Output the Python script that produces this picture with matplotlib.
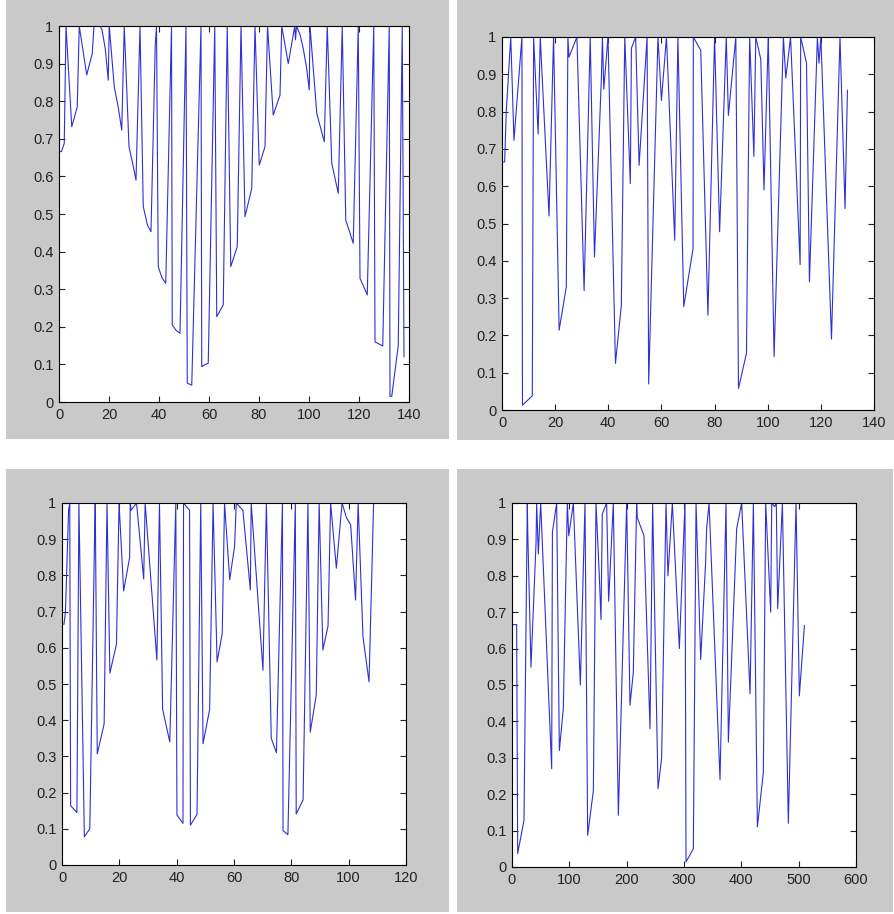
import matplotlib
matplotlib.use("Agg")
import matplotlib.pyplot as plt
from matplotlib.patches import Rectangle

plt.rcParams['font.family'] = ['Liberation Sans Narrow', 'Liberation Sans', 'DejaVu Sans']

# ---- data ----
p1_x = [0, 1, 2.1, 2.8, 5.1, 7.3, 8.1, 11.1, 13.3, 14.0, 16.4, 17.2, 18.5, 19.7, 20.1,
        22.1, 23.8, 25.1, 26.1, 28.0, 29.6, 30.8, 32.4, 33.7, 35.4, 36.8, 38.5, 39.0,
        39.7, 41.2, 42.7, 45.0, 45.3, 46.9, 48.4, 50.8, 51.3, 53.1, 56.8, 57.1, 58.5,
        59.7, 62.3, 63.1, 65.7, 67.3, 68.7, 71.3, 72.8, 74.4, 77.1, 78.4, 80.1, 82.4,
        83.4, 85.7, 88.4, 89.1, 91.7, 94.3, 94.6, 95.0, 96.5, 97.7, 99.0, 100.1, 100.4,
        103.1, 106.1, 107.3, 109.1, 111.7, 113.3, 114.7, 117.7, 119.7, 120.4, 123.3,
        125.9, 126.4, 129.5, 132.1, 132.4, 133.1, 135.7, 137.3, 138.0]
p1_y = [0.666, 0.666, 0.688, 1.0, 0.732, 0.785, 1.0, 0.87, 0.927, 1.0, 1.0, 0.99, 0.94, 0.856, 1.0,
        0.839, 0.78, 0.723, 1.0, 0.679, 0.63, 0.59, 1.0, 0.52, 0.47, 0.453, 0.95, 1.0,
        0.36, 0.33, 0.316, 1.0, 0.205, 0.19, 0.183, 1.0, 0.05, 0.045, 1.0, 0.094, 0.1,
        0.103, 1.0, 0.227, 0.258, 1.0, 0.36, 0.413, 1.0, 0.493, 0.568, 1.0, 0.63, 0.679,
        1.0, 0.763, 0.816, 1.0, 0.90, 1.0, 0.963, 1.0, 0.975, 0.94, 0.89, 0.83, 1.0,
        0.768, 0.692, 1.0, 0.635, 0.555, 1.0, 0.484, 0.422, 1.0, 0.329, 0.285,
        1.0, 0.16, 0.149, 1.0, 0.015, 0.015, 0.15, 1.0, 0.12]

p2_x = [0, 1.0, 1.6, 3.3, 4.5, 7.5, 7.7, 11.4, 11.9, 13.6, 14.4, 14.8, 17.7, 19.4, 21.5,
        24.2, 24.8, 25.2, 28.2, 30.9, 33.2, 34.8, 37.4, 37.8, 38.3, 39.9, 42.7, 44.9,
        46.2, 48.3, 48.7, 50.3, 51.6, 54.6, 55.2, 58.7, 60.0, 61.9, 65.0, 66.2, 68.4,
        71.9, 72.0, 74.8, 77.5, 80.0, 81.9, 84.4, 85.2, 88.0, 89.0, 92.0, 93.2, 94.8,
        95.5, 97.4, 98.6, 100.2, 102.4, 105.9, 106.8, 108.6, 112.2, 112.4, 114.6, 115.7,
        118.7, 119.3, 120.0, 124.0, 127.2, 129.1, 130.0]
p2_y = [0.665, 0.665, 0.80, 1.0, 0.723, 1.0, 0.013, 0.038, 1.0, 0.74, 1.0, 0.94, 0.52, 1.0, 0.214,
        0.33, 1.0, 0.946, 1.0, 0.32, 1.0, 0.41, 0.89, 1.0, 0.86, 1.0, 0.125, 0.28,
        1.0, 0.607, 0.97, 1.0, 0.656, 1.0, 0.07, 1.0, 0.83, 1.0, 0.455, 1.0, 0.277,
        0.433, 1.0, 0.964, 0.254, 1.0, 0.478, 1.0, 0.79, 1.0, 0.058, 0.152, 1.0, 0.68,
        1.0, 0.94, 0.59, 1.0, 0.143, 1.0, 0.89, 1.0, 0.39, 1.0, 0.93, 0.344,
        1.0, 0.93, 1.0, 0.19, 1.0, 0.54, 0.857]

p3_x = [0, 0.7, 1.2, 2.3, 2.7, 3.0, 5.2, 5.9, 7.8, 9.7, 11.4, 11.6, 12.3, 14.7, 15.7, 16.7,
        19.0, 19.9, 21.5, 23.6, 23.8, 24.1, 26.0, 28.5, 29.0, 33.1, 34.0, 35.1, 37.6,
        39.7, 40.1, 42.2, 42.4, 44.5, 44.8, 47.1, 48.4, 49.2, 51.5, 52.7, 54.1, 55.9,
        56.7, 58.5, 60.2, 60.8, 63.1, 65.7, 66.0, 70.1, 71.3, 73.0, 74.8, 76.9, 77.1,
        78.8, 81.4, 81.7, 84.1, 85.8, 86.6, 88.7, 89.7, 91.0, 92.8, 93.7, 95.7, 97.7,
        99.2, 100.7, 102.4, 103.3, 105.0, 107.1, 108.7]
p3_y = [0.665, 0.665, 0.70, 0.98, 1.0, 0.164, 0.145, 1.0, 0.078, 0.10, 0.93, 1.0, 0.307, 0.39, 1.0, 0.53,
        0.61, 1.0, 0.757, 0.85, 1.0, 0.98, 1.0, 0.79, 1.0, 0.566, 1.0, 0.43, 0.34,
        1.0, 0.138, 0.115, 1.0, 0.98, 0.11, 0.14, 1.0, 0.335, 0.43, 1.0, 0.561, 0.64,
        1.0, 0.788, 0.88, 1.0, 0.98, 0.76, 1.0, 0.538, 1.0, 0.35, 0.31, 1.0, 0.095,
        0.084, 1.0, 0.141, 0.18, 1.0, 0.367, 0.47, 1.0, 0.594, 0.66, 1.0, 0.82, 1.0,
        0.96, 0.94, 0.732, 1.0, 0.63, 0.506, 1.0]

p4_x = [0, 8.1, 9.9, 20.9, 26.7, 27.5, 33.1, 41.9, 43.0, 45.9, 50.0, 69.2, 70.5, 77.9,
        82.6, 89.5, 96.5, 99.0, 107.0, 119.2, 127.3, 132.0, 141.9, 146.5, 152.3, 155.2,
        157.5, 165.0, 168.6, 176.7, 185.5, 200.0, 205.8, 211.6, 217.4, 218.5, 230.2,
        240.7, 245.3, 254.7, 261.0, 268.6, 272.0, 279.7, 291.9, 301.7, 303.5, 316.3,
        321.0, 329.1, 337.8, 339.5, 343.7, 362.8, 373.3, 377.4, 391.9, 400.6, 415.2,
        421.0, 428.0, 438.4, 442.5, 451.2, 453.0, 458.0, 461.0, 463.4, 471.6, 482.0,
        495.4, 501.2, 510.0]
p4_y = [0.666, 0.666, 0.037, 0.128, 1.0, 0.92, 0.549, 0.89, 1.0, 0.86, 1.0, 0.27, 0.92, 1.0,
        0.32, 0.435, 1.0, 0.91, 1.0, 0.5, 1.0, 0.087, 0.21, 1.0, 0.80, 0.68,
        0.97, 1.0, 0.73, 1.0, 0.142, 1.0, 0.444, 0.535, 1.0, 0.96, 0.91,
        0.38, 1.0, 0.215, 0.3, 1.0, 0.8, 1.0, 0.6, 1.0, 0.014, 0.05,
        1.0, 0.57, 0.84, 0.93, 1.0, 0.24, 1.0, 0.343, 0.93, 1.0, 0.476,
        1.0, 0.11, 0.26, 1.0, 0.7, 1.0, 0.99, 1.0, 0.71, 1.0, 0.12,
        1.0, 0.47, 0.663]

xlims = [140, 140, 120, 600]
xsteps = [20, 20, 20, 100]
y_ticks = [0, 0.1, 0.2, 0.3, 0.4, 0.5, 0.6, 0.7, 0.8, 0.9, 1]
y_ticklabels = ['0', '0.1', '0.2', '0.3', '0.4', '0.5', '0.6', '0.7', '0.8', '0.9', '1']

series = [(p1_x, p1_y), (p2_x, p2_y), (p3_x, p3_y), (p4_x, p4_y)]

W, H = 894, 914
fig = plt.figure(figsize=(W / 100, H / 100), dpi=100)
fig.patch.set_facecolor('white')

def frac(l, t, r, b):
    return [l / W, 1 - b / H, (r - l) / W, (b - t) / H]

# grey window backgrounds (left, top, right, bottom in px)
grey_boxes = [(6, 0, 449, 439), (457, 0, 894, 440), (6, 469, 449, 912), (457, 469, 893, 912)]
for l, t, r, b in grey_boxes:
    fig.patches.append(Rectangle((l / W, 1 - b / H), (r - l) / W, (b - t) / H,
                                 transform=fig.transFigure, facecolor='#c9c9c9',
                                 edgecolor='none', zorder=-10))

axes_boxes = [(59, 26, 409, 402), (502, 37, 874, 410), (62, 503, 406, 865), (512, 503, 856, 867)]

for i, (xs, ys) in enumerate(series):
    ax = fig.add_axes(frac(*axes_boxes[i]), zorder=5)
    ax.plot(xs, ys, color='#3030d4', linewidth=0.8)
    ax.set_xlim(0, xlims[i])
    ax.set_ylim(0, 1)
    ax.set_xticks(list(range(0, xlims[i] + 1, xsteps[i])))
    ax.set_yticks(y_ticks)
    ax.set_yticklabels(y_ticklabels)
    ax.tick_params(direction='in', top=True, right=True, length=4, width=0.8,
                   labelsize=10.5, pad=4, colors='#222222')
    for sp in ax.spines.values():
        sp.set_linewidth(0.8)
        sp.set_color('black')

fig.savefig('out.png', dpi=100, facecolor='white')
